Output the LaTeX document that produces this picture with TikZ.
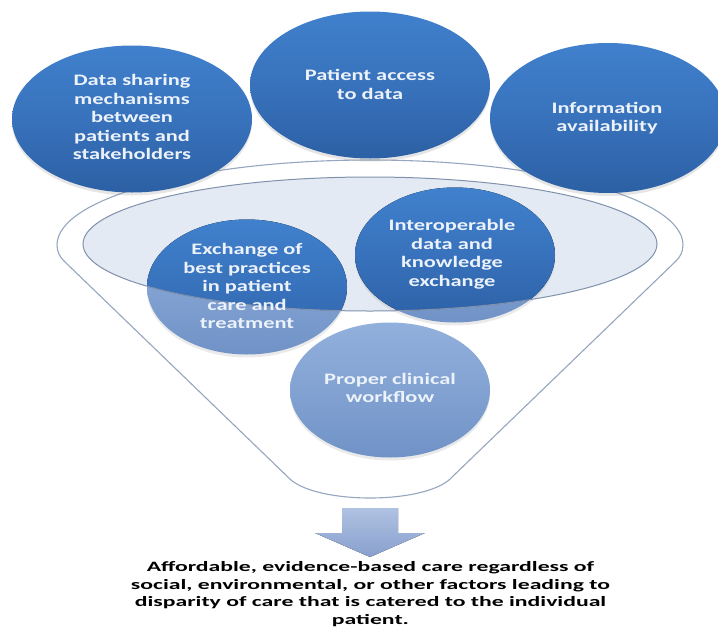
\documentclass[tikz,border=0pt]{standalone}
\usepackage{fontspec}
\usepackage{graphicx}
\setmainfont{Carlito}
\usetikzlibrary{shapes.geometric,shadows}
\definecolor{topA}{RGB}{64,128,204}
\definecolor{topM}{RGB}{56,114,188}
\definecolor{topB}{RGB}{44,96,164}
\definecolor{lightA}{RGB}{146,176,220}
\definecolor{lightM}{RGB}{130,162,210}
\definecolor{lightB}{RGB}{112,146,198}
\definecolor{innerfill}{RGB}{228,234,244}
\definecolor{innerline}{RGB}{128,145,172}
\definecolor{funline}{RGB}{150,166,192}
\definecolor{arrA}{RGB}{176,194,226}
\definecolor{arrB}{RGB}{136,160,206}
\definecolor{txtwhite}{RGB}{236,242,250}
\newcommand{\circtext}[1]{\scalebox{1.4}[1]{\begin{tabular}{@{}c@{}}#1\end{tabular}}}
\begin{document}
\begin{tikzpicture}[x=1pt,y=-1pt,
  darkshade/.style={top color=topA, bottom color=topB, middle color=topM},
  lightshade/.style={top color=lightA, bottom color=lightB, middle color=lightM},
  bigcirc/.style={ellipse, inner sep=0pt, outer sep=0pt, minimum width=240pt, minimum height=147pt,
     darkshade, draw=none,
     drop shadow={opacity=0.2, shadow xshift=0pt, shadow yshift=-3pt}},
  smallcirc/.style={ellipse, inner sep=0pt, outer sep=0pt, minimum width=200pt, minimum height=135pt,
     lightshade, draw=none,
     drop shadow={opacity=0.16, shadow xshift=0pt, shadow yshift=-3pt}},
  circlabel/.style={text=txtwhite, font=\fontsize{16pt}{18.5pt}\selectfont\bfseries, inner sep=0pt},
  resultlabel/.style={text=black, font=\fontsize{14.3pt}{17.5pt}\selectfont\bfseries, inner sep=0pt}
]
\useasboundingbox (0,0) rectangle (718,627);
\fill[white] (0,0) rectangle (718,627);

% funnel body
\path[draw=funline, line width=1.1pt, fill=white]
  (57,245) .. controls (57,198.1) and (197.1,160) .. (370,160)
  .. controls (542.9,160) and (683,198.1) .. (683,245)
  .. controls (683,252) and (680,257) .. (676,261)
  -- (449,480)
  .. controls (420,504) and (320,504) .. (291,480)
  -- (64,261)
  .. controls (60,257) and (57,252) .. cycle;

% inner ellipse of the funnel
\node[ellipse, inner sep=0pt, outer sep=0pt, minimum width=574pt, minimum height=134pt,
      fill=innerfill] (inner) at (370,244) {};

% circles inside the funnel (light)
\node[smallcirc] (exch) at (247,287) {};
\node[smallcirc] (interop) at (455,255) {};
\node[smallcirc] (proper) at (390,390) {};

% darker parts inside the inner ellipse
\begin{scope}
  \clip (inner.center) ellipse [x radius=287, y radius=67];
  \fill[darkshade] (exch.center) ellipse [x radius=100, y radius=67.5];
  \fill[darkshade] (interop.center) ellipse [x radius=100, y radius=67.5];
\end{scope}
\draw[innerline, line width=1pt] (inner.center) ellipse [x radius=287, y radius=67];

% top circles
\node[bigcirc] (share) at (132,119) {};
\node[bigcirc] (access) at (370,85) {};
\node[bigcirc, minimum width=236pt, minimum height=150pt] (info) at (608,118) {};

% labels
\node[circlabel] at (share.center) {\circtext{Data sharing\\mechanisms\\between\\patients and\\stakeholders}};
\node[circlabel] at ([yshift=-1.5pt]access.center) {\circtext{Patient access\\to data}};
\node[circlabel] at ([xshift=-1pt,yshift=-1pt]info.center) {\circtext{Information\\availability}};
\node[circlabel] at ([yshift=-1pt]exch.center) {\circtext{Exchange of\\best practices\\in patient\\care and\\treatment}};
\node[circlabel] at ([xshift=-3pt]interop.center) {\circtext{Interoperable\\data and\\knowledge\\exchange}};
\node[circlabel] at (proper.center) {\circtext{Proper clinical\\workflow}};

% result text
\node[resultlabel] (result) at (370.5,594.5)
  {\resizebox{479pt}{\height}{\begin{tabular}{@{}c@{}}Affordable, evidence-based care regardless of\\social, environmental, or other factors leading to\\disparity of care that is catered to the individual\\patient.\end{tabular}}};

% block arrow
\coordinate (atop) at (370,508);
\fill[top color=arrA, bottom color=arrB]
  ([xshift=-28pt]atop) -- ([xshift=28pt]atop) -- ([xshift=28pt,yshift=-25pt]atop)
  -- ([xshift=55pt,yshift=-25pt]atop) -- ([yshift=-49pt]atop)
  -- ([xshift=-55pt,yshift=-25pt]atop) -- ([xshift=-28pt,yshift=-25pt]atop) -- cycle;
\end{tikzpicture}
\end{document}
